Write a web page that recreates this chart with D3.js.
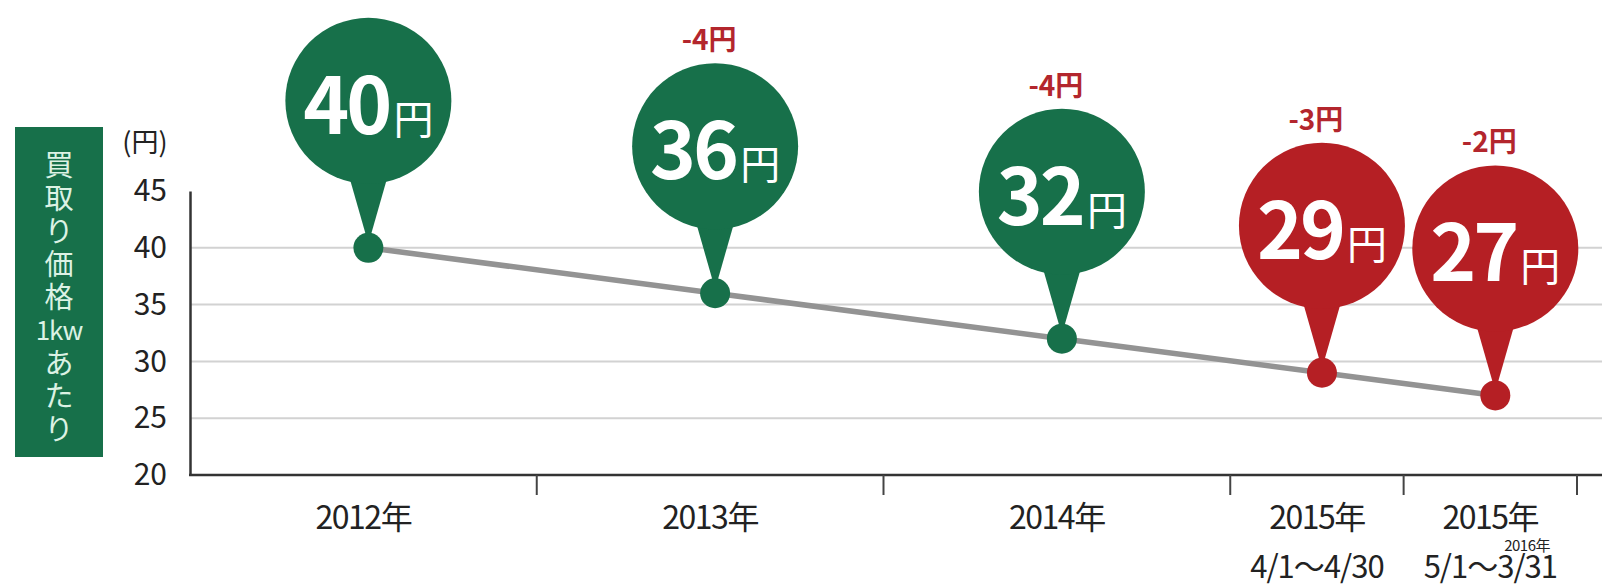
<!DOCTYPE html>
<html>
<head>
<meta charset="utf-8">
<script src="https://cdn.jsdelivr.net/npm/d3@7"></script>
<style>
  body { margin: 0; background: #fff; }
  svg { display: block; font-family: "Noto Sans CJK JP", "Noto Sans", sans-serif; }
</style>
</head>
<body>
<div id="chart"></div>
<script>
// purchase price per kW, by period
const periods = ["2012年", "2013年", "2014年", "2015年", "2015年"];
const periodNotes = ["", "", "", "4/1～4/30", "5/1～3/31"];
const noteSuper = ["", "", "", "", "2016年"];
const periodSpans = [2, 2, 2, 1, 1];
const prices = [40, 36, 32, 29, 27];
const changes = [null, -4, -4, -3, -2];
const yTicks = [20, 25, 30, 35, 40, 45];
const yTitle = ["買", "取", "り", "価", "格", "1kw", "あ", "た", "り"];

const W = 1602, H = 585;
const margin = { top: 191, right: 25, bottom: 110, left: 190 };
const GREEN = "#17704a";
const RED = "#b51f24";
const bubbleR = 83;
const bubbleLift = 147;
const markShift = 5;

const svg = d3.select("#chart").append("svg")
  .attr("width", W).attr("height", H);

// cumulative positions of the periods
let acc = 0;
const bands = periods.map((p, i) => {
  const start = acc;
  acc += periodSpans[i];
  return { label: p, note: periodNotes[i], sup: noteSuper[i], start, end: acc,
           mid: start + periodSpans[i] / 2, price: prices[i], change: changes[i], i };
});

const x = d3.scaleLinear().domain([0, acc]).range([margin.left, W - margin.right]);
const y = d3.scaleLinear().domain([20, 45]).range([H - margin.bottom, margin.top]);

// gridlines
svg.append("g").selectAll("line")
  .data(yTicks.filter(t => t > 20 && t < 45))
  .join("line")
  .attr("x1", margin.left).attr("x2", W)
  .attr("y1", d => y(d)).attr("y2", d => y(d))
  .attr("stroke", "#d2d2d2").attr("stroke-width", 2);

// y axis
const yAxis = svg.append("g")
  .attr("transform", `translate(${margin.left},0)`)
  .call(d3.axisLeft(y).tickValues(yTicks).tickSize(0).tickPadding(23));
yAxis.select(".domain").attr("stroke", "#333").attr("stroke-width", 2.5);
yAxis.selectAll("text")
  .attr("font-size", 30).attr("fill", "#222")
  .attr("font-family", "Noto Sans CJK JP");

// x axis line + ticks at period boundaries
svg.append("line")
  .attr("x1", margin.left - 1).attr("x2", W)
  .attr("y1", y(20)).attr("y2", y(20))
  .attr("stroke", "#333").attr("stroke-width", 2.5);
svg.append("g").selectAll("line")
  .data(bands)
  .join("line")
  .attr("x1", d => x(d.end)).attr("x2", d => x(d.end))
  .attr("y1", y(20)).attr("y2", y(20) + 20)
  .attr("stroke", "#444").attr("stroke-width", 2);

// x labels
const xl = svg.append("g").attr("fill", "#222").attr("text-anchor", "middle");
xl.selectAll("text.year")
  .data(bands)
  .join("text")
  .attr("class", "year")
  .attr("x", d => x(d.mid))
  .attr("y", y(20) + 54)
  .attr("font-size", 32)
  .attr("letter-spacing", -1.5)
  .text(d => d.label);
const notes = xl.selectAll("text.note")
  .data(bands.filter(d => d.note))
  .join("text")
  .attr("class", "note")
  .attr("x", d => x(d.mid))
  .attr("y", y(20) + 103)
  .attr("font-size", 31)
  .attr("letter-spacing", -1)
  .text(d => d.note);
// small superscript year over the end date
notes.each(function (d) {
  if (!d.sup) return;
  const t = d.note.indexOf("～") + 1;
  const a = this.getStartPositionOfChar(t).x;
  const b = this.getEndPositionOfChar(d.note.length - 1).x;
  xl.append("text")
    .attr("x", (a + b) / 2)
    .attr("y", y(20) + 76)
    .attr("font-size", 15)
    .attr("letter-spacing", -0.5)
    .text(d.sup);
});

// y title box
svg.append("rect")
  .attr("x", 15).attr("y", 127).attr("width", 88).attr("height", 330)
  .attr("fill", GREEN);
svg.append("g").selectAll("text")
  .data(yTitle)
  .join("text")
  .attr("x", 59)
  .attr("y", (d, i) => 163 + i * 33)
  .attr("text-anchor", "middle")
  .attr("dominant-baseline", "central")
  .attr("font-size", d => d.length > 1 ? 26 : 29)
  .attr("letter-spacing", d => d.length > 1 ? -1 : 0)
  .attr("fill", "#dcf2e4")
  .text(d => d);

svg.append("text")
  .attr("x", 145).attr("y", 152)
  .attr("text-anchor", "middle")
  .attr("font-size", 27).attr("fill", "#222")
  .text("(円)");

// connecting line
const px = d => x(d.mid) + markShift;
svg.append("path")
  .datum(bands)
  .attr("d", d3.line().x(px).y(d => y(d.price)))
  .attr("fill", "none")
  .attr("stroke", "#939393")
  .attr("stroke-width", 5.5);

// pins
const color = d => d.label === "2015年" ? RED : GREEN;
const pins = svg.append("g").selectAll("g")
  .data(bands)
  .join("g");

pins.append("path")
  .attr("d", d => {
    const cx = px(d), cy = y(d.price) - bubbleLift;
    return `M${cx - 22},${cy + 66}L${cx + 22},${cy + 66}L${px(d)},${y(d.price) - 4}Z`;
  })
  .attr("fill", color);
pins.append("circle")
  .attr("cx", px).attr("cy", d => y(d.price) - bubbleLift)
  .attr("r", bubbleR)
  .attr("fill", color);
pins.append("circle")
  .attr("cx", px).attr("cy", d => y(d.price))
  .attr("r", 15)
  .attr("fill", color);

const big = pins.append("text")
  .attr("x", px)
  .attr("y", d => y(d.price) - bubbleLift + 33)
  .attr("text-anchor", "middle")
  .attr("fill", "#fff");
big.append("tspan")
  .attr("font-size", 78).attr("font-weight", 700).attr("letter-spacing", -3)
  .text(d => d.price);
big.append("tspan")
  .attr("font-size", 40).attr("dx", 4)
  .text("円");

// change labels
pins.filter(d => d.change !== null)
  .append("text")
  .attr("x", d => px(d) - 6)
  .attr("y", d => y(d.price) - bubbleLift - 96)
  .attr("text-anchor", "middle")
  .attr("font-size", 28).attr("font-weight", 700)
  .attr("fill", "#b3262d")
  .text(d => `${d.change}円`);
</script>
</body>
</html>
